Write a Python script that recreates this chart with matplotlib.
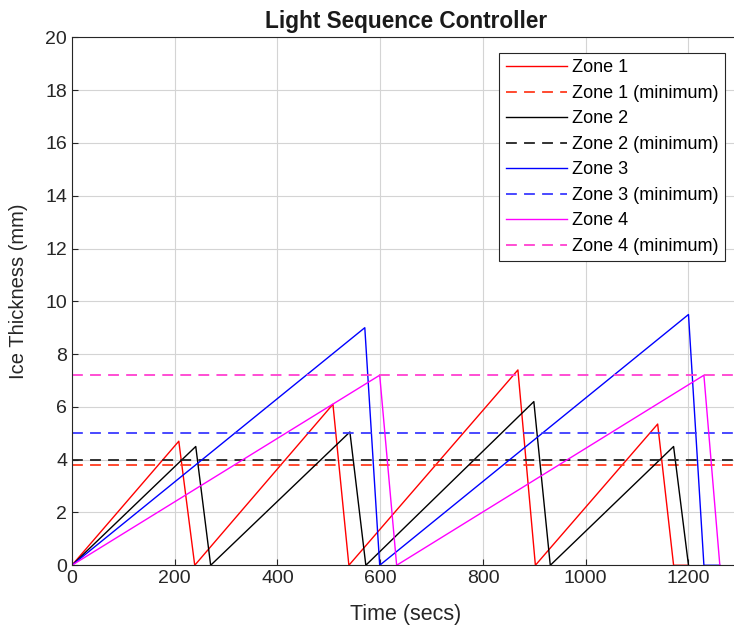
import matplotlib
matplotlib.use("Agg")
import matplotlib.pyplot as plt

# sawtooth corner points (time in secs, thickness in mm)
zone1_t = [0, 208, 239, 508, 539, 868, 902, 1140, 1171, 1200]
zone1_y = [0, 4.7, 0, 6.1, 0, 7.4, 0, 5.35, 0, 0]
zone2_t = [0, 241, 270, 541, 572, 899, 931, 1171, 1200]
zone2_y = [0, 4.5, 0, 5.05, 0, 6.2, 0, 4.5, 0]
zone3_t = [0, 570, 599, 1200, 1230, 1261]
zone3_y = [0, 9.0, 0, 9.5, 0, 0]
zone4_t = [0, 599, 632, 1230, 1261]
zone4_y = [0, 7.2, 0, 7.2, 0]

mins = [3.8, 4.0, 5.0, 7.2]
names = ["Zone 1", "Zone 2", "Zone 3", "Zone 4"]

plt.rcParams['font.family'] = ['Liberation Sans', 'DejaVu Sans']

fig = plt.figure(figsize=(7.34, 6.33), dpi=100)
# axes run a little past the right edge of the picture, like the cropped original
ax = fig.add_axes([0.098, 0.107, 0.910, 0.834])

solid = ["#ff0000", "#000000", "#0000ff", "#ff00ff"]
dashed = ["#ff3b1f", "#222222", "#3a3aff", "#ff40d0"]
series = [(zone1_t, zone1_y), (zone2_t, zone2_y), (zone3_t, zone3_y), (zone4_t, zone4_y)]

for i, (t, y) in enumerate(series):
    ax.plot(t, y, color=solid[i], lw=1.0, label=names[i])
    ax.axhline(mins[i], color=dashed[i], lw=1.3, ls=(0, (6, 4)), label=names[i] + " (minimum)")

ax.set_xlim(0, 1300)
ax.set_ylim(0, 20)
ax.set_xticks([0, 200, 400, 600, 800, 1000, 1200])
ax.set_yticks(range(0, 21, 2))
ax.tick_params(labelsize=14, colors="#262626", direction="in", length=4)
ax.grid(True, color="#d4d4d4", lw=0.8)
ax.set_axisbelow(True)
for s in ax.spines.values():
    s.set_color("#262626")
    s.set_linewidth(0.8)

ax.set_xlabel("Time (secs)", fontsize=15.5, color="#262626")
ax.set_ylabel("Ice Thickness (mm)", fontsize=14.5, color="#262626")
ax.xaxis.set_label_coords(0.5, -0.074)
ax.yaxis.set_label_coords(-0.066, 0.519)
ax.set_title("Light Sequence Controller", fontsize=16.3, fontweight="bold", color="#1a1a1a", pad=7)

leg = ax.legend(loc="upper right", bbox_to_anchor=(0.988, 0.916), bbox_transform=fig.transFigure,
                fontsize=13, frameon=True, fancybox=False, handlelength=3.4, handletextpad=0.3,
                labelspacing=0.47, borderpad=0.35, borderaxespad=0)
leg.get_frame().set_edgecolor("#262626")
leg.get_frame().set_linewidth(0.8)
leg.get_frame().set_alpha(1)

fig.savefig("out.png", dpi=100)
